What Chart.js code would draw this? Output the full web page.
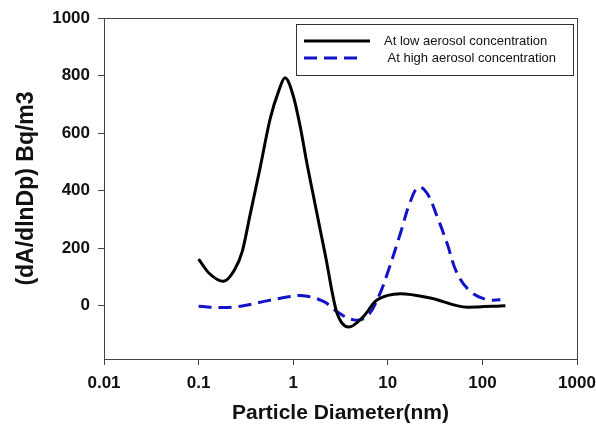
<!DOCTYPE html>
<html>
<head>
<meta charset="utf-8">
<script src="https://cdn.jsdelivr.net/npm/chart.js@4"></script>
<style>
  body { margin: 0; background: #fff; }
  #wrap { width: 596px; height: 432px; }
</style>
</head>
<body>
<div id="wrap"><canvas id="chart" width="596" height="432"></canvas></div>
<script>
/* ---------- data ---------- */
const lowDiameter  = [0.1, 0.13, 0.183, 0.24, 0.29, 0.35, 0.45, 0.57, 0.7, 0.82, 1.0, 1.186, 1.396, 1.64, 1.93, 2.27, 2.57, 2.9, 3.85, 5.54, 7.38, 10, 13.6, 28.2, 68.9, 175];
const lowValues    = [162, 112, 85, 125, 190, 316, 484, 649, 745, 792, 730, 623, 495, 380, 264, 148, 50, -25, -74, -37, 15, 36, 42, 27, -5, 0];

const highDiameter = [0.1, 0.183, 0.298, 0.527, 0.929, 1.285, 2.09, 2.9, 4.35, 6.02, 8.0, 10.2, 13.6, 17.3, 21.2, 26, 33.2, 42.3, 54, 74.6, 112, 155];
const highValues   = [-2, -6, 0, 17, 32, 35, 15, -20, -49, -37, 32, 125, 252, 362, 412, 391, 310, 217, 113, 50, 21, 21];

const seriesNames = ['At low aerosol concentration', ' At high aerosol concentration'];
const xTicks = [0.01, 0.1, 1, 10, 100, 1000];
const yTicks = [0, 200, 400, 600, 800, 1000];

const AXIS = '#444';
const FONT = "'Liberation Sans', Arial, sans-serif";

function toPoints(xs, ys) {
  return xs.map((x, i) => ({ x, y: ys[i] }));
}

// box around the plot area (top + right sides)
const frame = {
  id: 'frame',
  beforeDatasetsDraw(chart) {
    const { ctx, chartArea: a } = chart;
    ctx.save();
    ctx.strokeStyle = AXIS;
    ctx.lineWidth = 1;
    ctx.strokeRect(a.left + 0.5, a.top + 0.5, a.right - a.left, a.bottom - a.top);
    ctx.restore();
  }
};

// boxed legend inside the top right corner
const boxLegend = {
  id: 'boxLegend',
  afterDraw(chart) {
    const { ctx, chartArea: a } = chart;
    const w = 277, h = 51;
    const x0 = a.right - w - 4, y0 = a.top + 6;
    ctx.save();
    ctx.fillStyle = '#fff';
    ctx.fillRect(x0, y0, w, h);
    ctx.strokeStyle = '#333';
    ctx.lineWidth = 1;
    ctx.strokeRect(x0 + 0.5, y0 + 0.5, w, h);
    ctx.font = '13px ' + FONT;
    ctx.textBaseline = 'middle';
    chart.data.datasets.forEach((ds, i) => {
      const yy = y0 + 17 + i * 17;
      ctx.strokeStyle = ds.borderColor;
      ctx.lineWidth = ds.borderWidth;
      ctx.setLineDash(ds.borderDash || []);
      ctx.beginPath();
      ctx.moveTo(x0 + 8, yy);
      ctx.lineTo(x0 + (ds.borderDash ? 66 : 74), yy);
      ctx.stroke();
      ctx.setLineDash([]);
      ctx.fillStyle = '#111';
      ctx.fillText(ds.label, x0 + 88, yy);
    });
    ctx.restore();
  }
};

new Chart(document.getElementById('chart'), {
  type: 'line',
  data: {
    datasets: [
      { label: seriesNames[0], data: toPoints(lowDiameter, lowValues), borderColor: '#000', borderWidth: 3,
        pointRadius: 0, cubicInterpolationMode: 'monotone', fill: false },
      { label: seriesNames[1], data: toPoints(highDiameter, highValues), borderColor: '#1212c8', borderWidth: 3,
        borderDash: [13, 7], pointRadius: 0, tension: 0.4, fill: false }
    ]
  },
  options: {
    responsive: false,
    animation: false,
    layout: { padding: { top: 18, right: 19, left: 0, bottom: 0 } },
    plugins: { legend: { display: false }, tooltip: { enabled: false } },
    scales: {
      x: {
        type: 'logarithmic',
        min: 0.01, max: 1000,
        afterBuildTicks: s => { s.ticks = xTicks.map(v => ({ value: v })); },
        afterFit: s => { s.height = 73; s.paddingLeft = 0; s.paddingRight = 0; },
        grid: { drawOnChartArea: false, color: AXIS, tickLength: 6 },
        border: { color: AXIS, width: 1 },
        ticks: {
          color: '#111', padding: 8, maxRotation: 0, autoSkip: false,
          font: { family: FONT, size: 17, weight: 'bold' },
          callback: v => String(v)
        },
        title: {
          display: true, text: 'Particle Diameter(nm)', color: '#111',
          font: { family: FONT, size: 21, weight: 'bold' },
          padding: { top: 0, bottom: 6 }
        }
      },
      y: {
        min: -185, max: 1000,
        afterBuildTicks: s => { s.ticks = yTicks.map(v => ({ value: v })); },
        afterFit: s => { s.width = 104; s.paddingTop = 0; s.paddingBottom = 0; },
        grid: { drawOnChartArea: false, color: AXIS, tickLength: 6 },
        border: { color: AXIS, width: 1 },
        ticks: {
          color: '#111', padding: 8,
          font: { family: FONT, size: 17, weight: 'bold' },
          callback: v => String(v)
        },
        title: {
          display: true, text: '(dA/dlnDp) Bq/m3', color: '#111',
          font: { family: FONT, size: 23, weight: 'bold' },
          padding: { top: 13, bottom: 0 }
        }
      }
    }
  },
  plugins: [frame, boxLegend]
});
</script>
</body>
</html>
